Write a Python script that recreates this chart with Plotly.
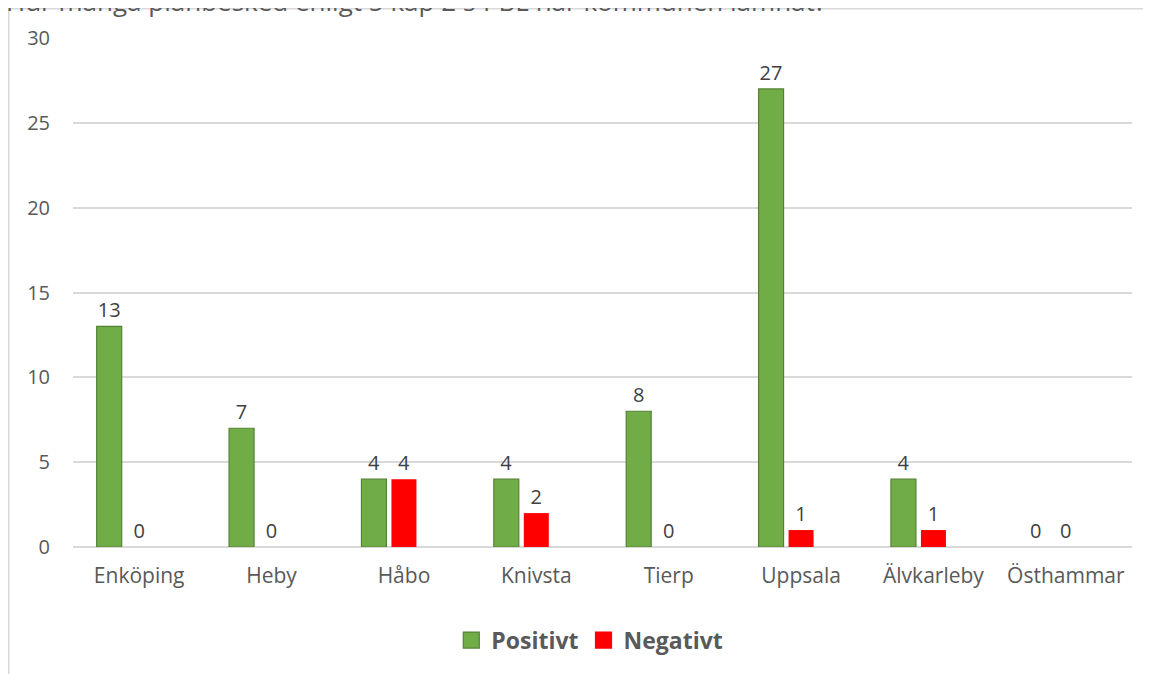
import plotly.graph_objects as go

# Planbesked per kommun
kommuner = ["Enköping", "Heby", "Håbo", "Knivsta", "Tierp", "Uppsala", "Älvkarleby", "Östhammar"]
positivt = [13, 7, 4, 4, 8, 27, 4, 0]
negativt = [0, 0, 4, 2, 0, 1, 1, 0]

title_text = "Hur många planbesked enligt 5 kap 2 § PBL har kommunen lämnat?"

GREEN = "#70ad47"
GREEN_EDGE = "#548235"
RED = "#ff0000"
GRID = "#d9d9d9"
FONT = "Open Sans"

# plot area in figure pixels (the page adds an 8px body margin)
L, R, T, B = 65, 27, 30, 135
W, H = 1151, 674
pw = W - L - R
ph = H - T - B

cat_px = pw / len(kommuner)
bar_w = 25 / cat_px
step = 30 / cat_px

fig = go.Figure()

fig.add_trace(
    go.Bar(
        x=kommuner,
        y=positivt,
        name="Positivt",
        showlegend=False,
        marker=dict(
            color=GREEN,
            line=dict(color=GREEN_EDGE, width=[1.2 if v > 0 else 0 for v in positivt]),
        ),
        width=bar_w,
        offset=-step - bar_w / 2,
        text=positivt,
        textposition="outside",
        cliponaxis=False,
        textfont=dict(family=FONT, size=20, color="#404040"),
    )
)

fig.add_trace(
    go.Bar(
        x=kommuner,
        y=negativt,
        name="Negativt",
        showlegend=False,
        marker=dict(color=RED, line=dict(width=0)),
        width=bar_w,
        offset=-bar_w / 2,
        text=negativt,
        textposition="outside",
        cliponaxis=False,
        textfont=dict(family=FONT, size=20, color="#404040"),
    )
)

# legend entries with larger square keys
for name, col, edge in [("Positivt", GREEN, GREEN_EDGE), ("Negativt", RED, RED)]:
    fig.add_trace(
        go.Scatter(
            x=[None],
            y=[None],
            mode="markers",
            name=name,
            marker=dict(symbol="square", size=18, color=col, line=dict(color=edge, width=1.2)),
        )
    )

fig.update_layout(
    width=W,
    height=H,
    margin=dict(l=L, r=R, t=T, b=B),
    barmode="overlay",
    plot_bgcolor="white",
    paper_bgcolor="white",
    font=dict(family=FONT, color="#595959"),
    showlegend=True,
    legend=dict(
        orientation="h",
        x=0.488,
        xanchor="center",
        y=-0.183,
        yanchor="middle",
        font=dict(family=FONT, size=23, color="#595959", weight="bold"),
        itemwidth=30,
        traceorder="normal",
    ),
)

fig.update_xaxes(
    showgrid=False,
    showline=False,
    ticks="",
    tickfont=dict(family=FONT, size=21, color="#595959"),
    ticklabelstandoff=14,
)

fig.update_yaxes(
    range=[0, 30],
    dtick=5,
    showgrid=True,
    gridcolor=GRID,
    gridwidth=1.5,
    zeroline=True,
    zerolinecolor=GRID,
    zerolinewidth=1.5,
    showline=False,
    ticks="",
    tickfont=dict(family=FONT, size=20, color="#595959"),
    ticklabelstandoff=22,
)

# chart frame (only the top and left edges are visible in the crop)
x_frame = (0.75 - L) / pw
y_frame = (H - B - 0.75) / ph
fig.add_shape(type="line", xref="paper", yref="paper",
              x0=x_frame, x1=1.2, y0=y_frame, y1=y_frame,
              line=dict(color=GRID, width=1.5))
fig.add_shape(type="line", xref="paper", yref="paper",
              x0=x_frame, x1=x_frame, y0=y_frame, y1=-0.5,
              line=dict(color=GRID, width=1.5))

# partially cut-off heading above the frame
fig.add_annotation(
    text=title_text,
    xref="paper", yref="paper",
    x=(-4 - L) / pw, xanchor="left",
    y=(H - B - 13) / ph, yanchor="bottom",
    showarrow=False,
    font=dict(family=FONT, size=26, color="#595959"),
)

fig.write_html("out.html")
